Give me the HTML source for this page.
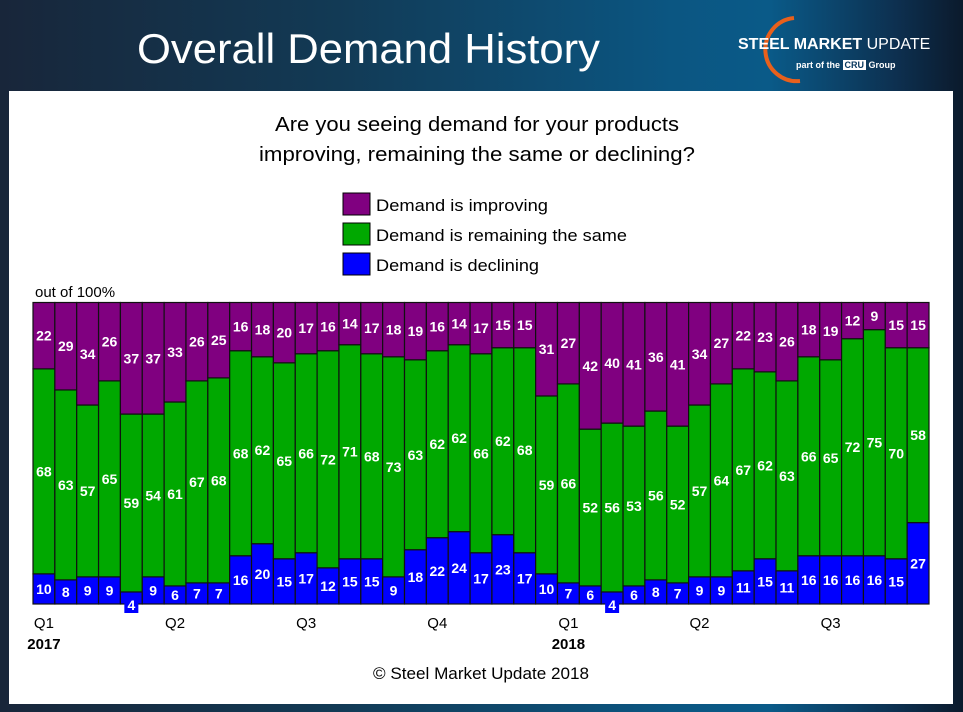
<!DOCTYPE html>
<html><head><meta charset="utf-8"><style>
body{margin:0;width:963px;height:712px;overflow:hidden;font-family:"Liberation Sans",sans-serif;}
#bg{position:absolute;left:0;top:0;width:963px;height:712px;background:linear-gradient(90deg,#18263a 0%,#123a55 35%,#0b5682 70%,#0a5a88 80%,#0d3050 93%,#0b1a2c 100%);}
#panel{position:absolute;left:9px;top:91px;width:944px;height:613px;background:#fff;}
</style></head><body>
<div id="bg"></div>
<svg width="963" height="91" style="position:absolute;left:0;top:0">
<text x="137" y="63" textLength="463" lengthAdjust="spacingAndGlyphs" fill="#fff" font-family="Liberation Sans, sans-serif" font-size="42">Overall Demand History</text>
</svg>
<div style="position:absolute;left:736px;top:14px;width:220px;height:70px;">
<svg width="100" height="70" style="position:absolute;left:0;top:0"><path d="M58 4 A30 30 0 1 0 64 67" fill="none" stroke="#e8601c" stroke-width="4"/></svg>
<div style="position:absolute;left:2px;top:22px;color:#fff;font-size:16px;font-weight:bold;">STEEL MARKET <span style="font-weight:normal">UPDATE</span></div>
<div style="position:absolute;left:60px;top:46px;color:#fff;font-size:9px;font-weight:bold;">part of the <span style="background:#fff;color:#0a3a60;padding:0 2px">CRU</span> Group</div>
</div>
<div id="panel"></div>
<svg id="chart" width="963" height="712" style="position:absolute;left:0;top:0"></svg>
<script>
const improving=[22,29,34,26,37,37,33,26,25,16,18,20,17,16,14,17,18,19,16,14,17,15,15,31,27,42,40,41,36,41,34,27,22,23,26,18,19,12,9,15,15];
const same=[68,63,57,65,59,54,61,67,68,68,62,65,66,72,71,68,73,63,62,62,66,62,68,59,66,52,56,53,56,52,57,64,67,62,63,66,65,72,75,70,58];
const declining=[10,8,9,9,4,9,6,7,7,16,20,15,17,12,15,15,9,18,22,24,17,23,17,10,7,6,4,6,8,7,9,9,11,15,11,16,16,16,16,15,27];
const quarterLabels=["Q1","Q2","Q3","Q4","Q1","Q2","Q3"];
const quarterIndex=[0,6,12,18,24,30,36];
const yearLabels=["2017","2018"];
const yearIndex=[0,24];
const NS="http://www.w3.org/2000/svg";
const svg=document.getElementById('chart');
const X0=33,X1=929,Y0=302.5,Y1=604;
const n=improving.length,bw=(X1-X0)/n;
const x=i=>X0+i*bw;
const y=v=>Y1-(v/100)*(Y1-Y0);
function mk(t,a,txt){const e=document.createElementNS(NS,t);for(const k in a)e.setAttribute(k,a[k]);if(txt!==undefined)e.textContent=txt;svg.appendChild(e);return e;}
function tx(px,py,s,o){return mk('text',Object.assign({x:px,y:py,'text-anchor':'middle','font-family':'Liberation Sans, sans-serif','font-size':15,fill:'#000'},o||{}),s);}
let t;
t=tx(477,131,"Are you seeing demand for your products",{'font-size':20,textLength:404,lengthAdjust:'spacingAndGlyphs'});


t=tx(477,161,"improving, remaining the same or declining?",{'font-size':20,textLength:436,lengthAdjust:'spacingAndGlyphs'});


const leg=[["Demand is improving","#800080",172],["Demand is remaining the same","#00a800",251],["Demand is declining","#0000ff",163]];
leg.forEach((l,k)=>{
 const r=mk('rect',{x:343,y:193+k*30,width:27,height:22,fill:l[1],stroke:'#000','stroke-width':1});
 
 
 const e=tx(376,211+k*30,l[0],{'text-anchor':'start','font-size':17,textLength:l[2],lengthAdjust:'spacingAndGlyphs'});
 
 
});
t=tx(35,297,"out of 100%",{'text-anchor':'start','font-size':15});


const blues=[];
for(let i=0;i<n;i++){
 const d=declining[i],s=same[i],m=improving[i];
 const yd=y(d),ys=y(d+s),ym=y(d+s+m);
 let r=mk('rect',{x:x(i),y:yd,width:bw,height:Y1-yd,fill:'#0000ff',stroke:'#111','stroke-width':1.2});
 
 
 r=mk('rect',{x:x(i),y:ys,width:bw,height:yd-ys,fill:'#00a800',stroke:'#111','stroke-width':1.2});
 
 
 r=mk('rect',{x:x(i),y:ym,width:bw,height:ys-ym,fill:'#800080',stroke:'#111','stroke-width':1.2});
 
 
 blues.push([i,d,yd]);
 const o={fill:'#fff','font-weight':'bold','font-size':14};
 let e=tx(x(i)+bw/2,(ym+ys)/2+5,String(m),o);
 
 
 e=tx(x(i)+bw/2,(ys+yd)/2+5,String(s),o);
 
 
}
blues.forEach(([i,d,yd])=>{
 let cy=(yd+Y1)/2+5;
 if(Y1-yd<16){cy=Y1+6;const b=mk('rect',{x:x(i)+bw/2-7,y:Y1-7,width:14,height:16,fill:'#0000ff'});}
 const e=tx(x(i)+bw/2,cy,String(d),{fill:'#fff','font-weight':'bold','font-size':14});
 
 
});
quarterLabels.forEach((q,k)=>{
 const e=tx(x(quarterIndex[k])+bw/2,628,q,{'font-size':15});
 
 
});
yearLabels.forEach((yl,k)=>{
 const e=tx(x(yearIndex[k])+bw/2,649,yl,{'font-size':15,'font-weight':'bold'});
 
 
});
t=tx(481,679,"© Steel Market Update 2018",{'font-size':17,textLength:216,lengthAdjust:'spacingAndGlyphs'});


</script>
</body></html>
